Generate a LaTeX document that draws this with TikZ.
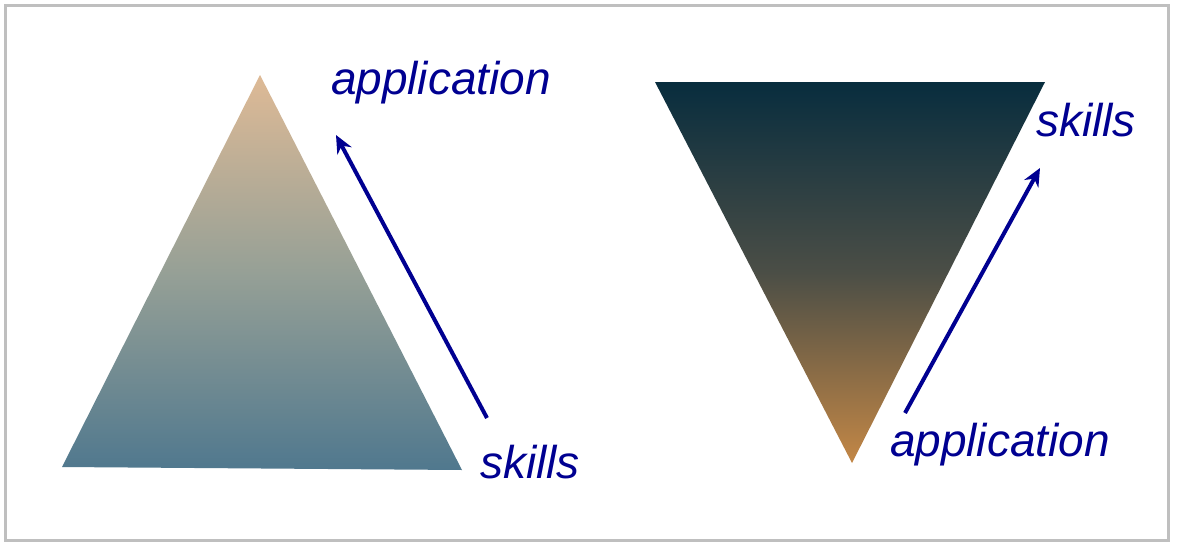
\documentclass[tikz,border=0pt]{standalone}
\usepackage{fontspec}
\setmainfont{Liberation Sans}
\usetikzlibrary{arrows.meta}
\begin{document}
\begin{tikzpicture}[x=1pt,y=-1pt]
\definecolor{navy}{RGB}{0,0,145}
\definecolor{tan}{RGB}{222,186,150}
\definecolor{midg}{RGB}{150,160,150}
\definecolor{slate}{RGB}{80,120,142}
\definecolor{dtop}{RGB}{8,45,62}
\definecolor{dmid}{RGB}{75,78,70}
\definecolor{dbot}{RGB}{195,135,70}
\tikzset{lbl/.style={font=\fontsize{46}{54}\selectfont\itshape,text=navy,inner sep=0pt},
 arr/.style={draw=navy,line width=4pt,-{Stealth[length=18pt,width=16pt]}}}
\useasboundingbox (0,0) rectangle (1180,546);
\draw[draw=black!25,line width=3pt] (5,5) rectangle (1168,540);
\shade[top color=tan,bottom color=slate,middle color=midg] (260,75) -- (462,470) -- (62,467) -- cycle;
\shade[top color=dtop,bottom color=dbot,middle color=dmid] (655,82) -- (1045,82) -- (852,463) -- cycle;
\node[lbl] (a1) at (441,83) {application};
\node[lbl] (s1) at (530,462) {skills};
\node[lbl] (s2) at (1086,120) {skills};
\node[lbl] (a2) at (1000,445) {application};
\coordinate (p1) at (487,418);
\coordinate (q1) at (336,135);
\coordinate (p2) at (905,413);
\coordinate (q2) at (1040,168);
\draw[arr] (p1) -- (q1);
\draw[arr] (p2) -- (q2);
\end{tikzpicture}
\end{document}
